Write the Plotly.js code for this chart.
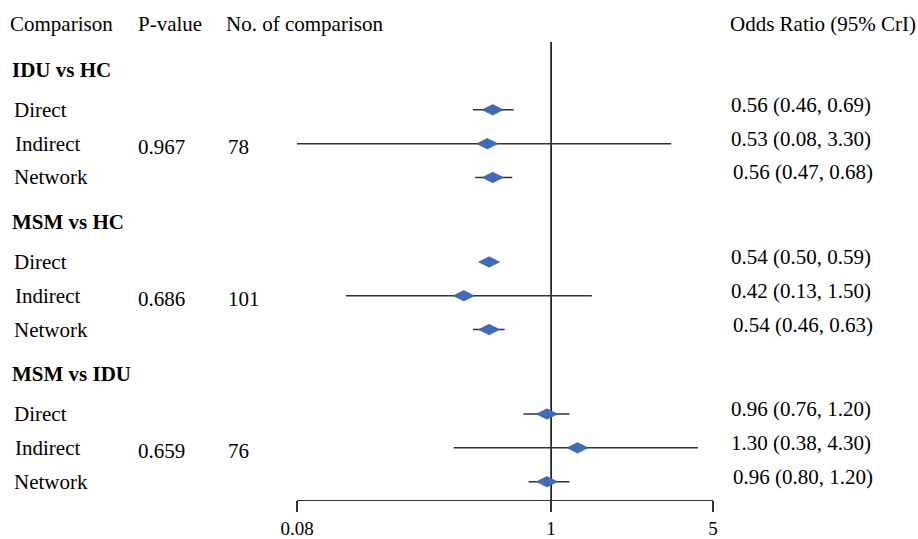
<!DOCTYPE html>
<html>
<head>
<meta charset="utf-8">
<script src="https://cdn.plot.ly/plotly-3.0.1.min.js"></script>
<style>html,body{margin:0;padding:0;background:#fff;}#chart{width:918px;height:539px;}</style>
</head>
<body>
<div id="chart"></div>
<script>
// ---- Data ----
const groups = ['IDU vs HC', 'MSM vs HC', 'MSM vs IDU'];
const methods = ['Direct', 'Indirect', 'Network'];
const pValues = ['0.967', '0.686', '0.659'];
const nComparisons = ['78', '101', '76'];
const estimates = [0.56, 0.53, 0.56, 0.54, 0.42, 0.54, 0.96, 1.30, 0.96];
const lowerCrI  = [0.46, 0.08, 0.47, 0.50, 0.13, 0.46, 0.76, 0.38, 0.80];
const upperCrI  = [0.69, 3.30, 0.68, 0.59, 1.50, 0.63, 1.20, 4.30, 1.20];
const tickValues = [0.08, 1, 5];
const tickLabels = ['0.08', '1', '5'];
const headers = ['Comparison', 'P-value', 'No. of comparison', 'Odds Ratio (95% CrI)'];

// ---- Layout helpers ----
const W = 918, H = 539;
const FONT = 'Liberation Serif';
const FS = 21;
const groupStep = 4.5, titleOff = 1.36, rowOff = 2.54;
const titleY = g => g * groupStep + titleOff;
const rowY = (g, r) => g * groupStep + rowOff + r;
const px = v => v / W;

const ys = [], xs = [], plus = [], minus = [];
groups.forEach((g, gi) => methods.forEach((m, mi) => {
  const k = gi * methods.length + mi;
  ys.push(rowY(gi, mi));
  xs.push(estimates[k]);
  plus.push(upperCrI[k] - estimates[k]);
  minus.push(estimates[k] - lowerCrI[k]);
}));

const trace = {
  type: 'scatter', mode: 'markers', x: xs, y: ys, cliponaxis: false,
  marker: {symbol: 'diamond-wide', size: 15, color: '#3D6CBC', line: {color: '#2E579C', width: 0.6}},
  error_x: {type: 'data', symmetric: false, array: plus, arrayminus: minus, width: 0, thickness: 1.5, color: '#333333'},
  hoverinfo: 'skip', showlegend: false
};

const ann = [];
const txt = (x, y, text, opts = {}) => ann.push(Object.assign({
  xref: 'paper', yref: 'y', x: px(x), y: y, text: text, showarrow: false,
  xanchor: 'left', yanchor: 'middle', font: {family: FONT, size: FS, color: '#000'}
}, opts));

// headers
const headerX = [8, 136, 224, 728];
headers.forEach((h, i) => txt(headerX[i], 0, h));

groups.forEach((g, gi) => {
  txt(10, titleY(gi), '<b>' + g + '</b>');
  methods.forEach((m, mi) => {
    const k = gi * methods.length + mi;
    txt(mi === 1 ? 13 : 12, rowY(gi, mi), m);
    const orText = estimates[k].toFixed(2) + ' (' + lowerCrI[k].toFixed(2) + ', ' + upperCrI[k].toFixed(2) + ')';
    txt(mi === 2 ? 731 : 729, rowY(gi, mi), orText, {yshift: 5});
  });
  txt(136, rowY(gi, 1), pValues[gi], {yshift: -3});
  txt(226, rowY(gi, 1), nComparisons[gi], {yshift: -3});
});

const axisBottomPx = 500;
const yTop = -24 / 33.8;
const yBottom = (axisBottomPx - 24) / 33.8;

const layout = {
  width: W, height: H,
  margin: {l: 0, r: 0, t: 0, b: 0},
  paper_bgcolor: '#fff', plot_bgcolor: '#fff',
  xaxis: {
    type: 'log', domain: [px(297), px(713)],
    range: [Math.log10(0.08), Math.log10(5)],
    showgrid: false, zeroline: false, showline: true, linecolor: '#333', linewidth: 1.4,
    ticks: 'outside', ticklen: 11, tickwidth: 1.4, tickcolor: '#333',
    tickmode: 'array', tickvals: tickValues, ticktext: tickLabels,
    tickfont: {family: FONT, size: 19, color: '#000'}, fixedrange: true
  },
  yaxis: {
    domain: [(H - axisBottomPx) / H, 1],
    range: [yBottom, yTop], visible: false, showgrid: false, zeroline: false, fixedrange: true
  },
  shapes: [{
    type: 'line', xref: 'x', yref: 'y', x0: 1, x1: 1, y0: (42 - 24) / 33.8, y1: yBottom,
    line: {color: '#000', width: 1.5}, layer: 'below'
  }],
  annotations: ann
};

Plotly.newPlot('chart', [trace], layout, {staticPlot: true, displayModeBar: false});
</script>
</body>
</html>
